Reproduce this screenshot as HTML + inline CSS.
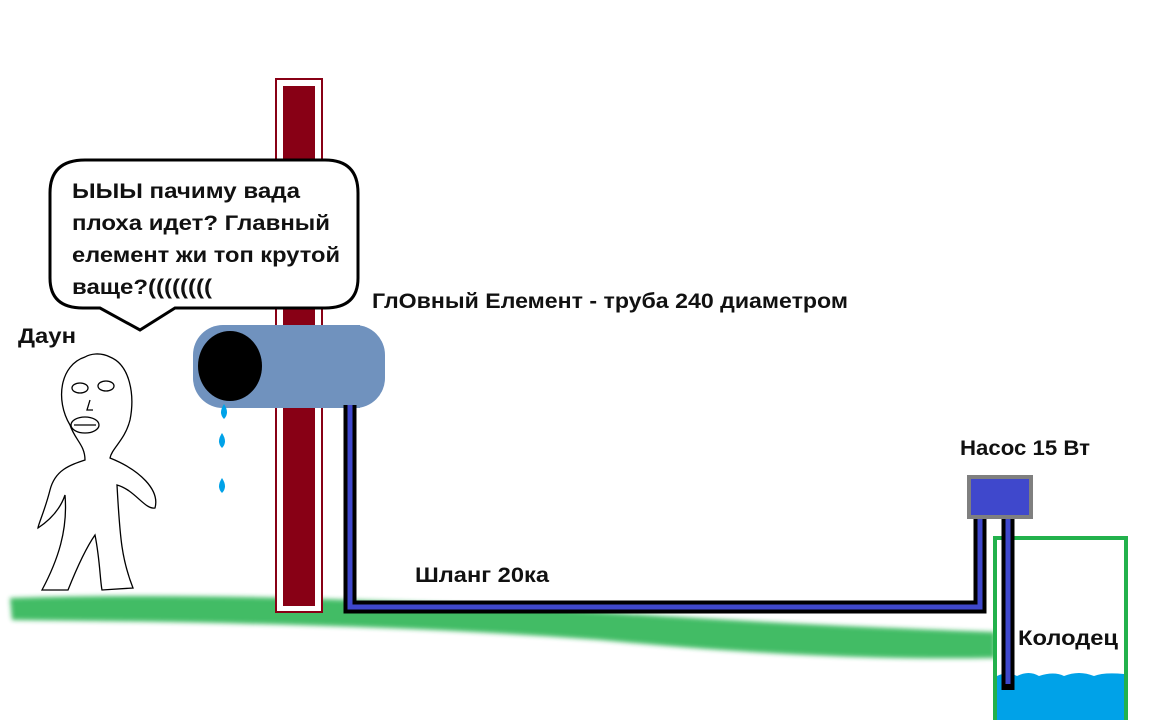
<!DOCTYPE html>
<html><head><meta charset="utf-8"><style>
html,body{margin:0;padding:0;background:#fff}
svg{display:block}
text{font-family:"Liberation Sans","DejaVu Sans",sans-serif;font-weight:bold;fill:#111}
</style></head><body>
<svg width="1152" height="720" viewBox="0 0 1152 720" xmlns="http://www.w3.org/2000/svg">
<defs><filter id="blur"><feGaussianBlur stdDeviation="2.5"/></filter></defs>
<!-- grass -->
<path d="M10,598 C200,592 400,600 600,612 C750,622 880,628 995,632 L995,658 C880,660 760,655 600,640 C400,625 200,622 12,620 Z" fill="#22b14c" opacity="0.85" filter="url(#blur)"/>
<!-- post -->
<rect x="276" y="79" width="46" height="533" fill="#fff" stroke="#880015" stroke-width="2"/>
<rect x="283" y="86" width="32" height="520" fill="#880015"/>
<!-- speech bubble -->
<path d="M85,160 L325,160 Q358,160 358,193 L358,278 Q358,308 325,308 L175,308 L140,330 L100,308 L83,308 Q50,308 50,278 L50,193 Q50,160 85,160 Z" fill="#fff" stroke="#000" stroke-width="3"/>
<g font-size="21">
<text x="72" y="198" textLength="228" lengthAdjust="spacingAndGlyphs">ЫЫЫ пачиму вада</text>
<text x="72" y="230" textLength="258" lengthAdjust="spacingAndGlyphs">плоха идет? Главный</text>
<text x="72" y="262" textLength="268" lengthAdjust="spacingAndGlyphs">елемент жи топ крутой</text>
<text x="72" y="294" textLength="140" lengthAdjust="spacingAndGlyphs">ваще?((((((((</text>
</g>
<!-- pipe -->
<rect x="193" y="325" width="192" height="83" rx="30" fill="#7092be"/>
<rect x="230" y="325" width="130" height="83" fill="#7092be"/>
<ellipse cx="230" cy="366" rx="32" ry="35" fill="#000"/>
<!-- drops -->
<g fill="#00a2e8"><path d="M224,404 q6,9 0,15 q-6,-6 0,-15z"/><path d="M222,433 q6,9 0,15 q-6,-6 0,-15z"/><path d="M222,478 q6,9 0,15 q-6,-6 0,-15z"/></g>
<!-- hose -->
<path d="M350,405 L350,607 L980,607 L980,515" fill="none" stroke="#000" stroke-width="13"/>
<path d="M350,405 L350,607 L980,607 L980,515" fill="none" stroke="#3f48cc" stroke-width="5"/>
<!-- well -->
<rect x="995" y="538" width="131" height="190" fill="#fff" stroke="#22b14c" stroke-width="4"/>
<path d="M997,676 q10,-5 20,0 q12,-6 22,0 q15,-5 25,0 q15,-6 30,0 q10,-4 30,-2 L1124,720 L997,720 Z" fill="#00a2e8"/>
<path d="M1008,515 L1008,690" fill="none" stroke="#000" stroke-width="13"/>
<path d="M1008,515 L1008,684" fill="none" stroke="#3f48cc" stroke-width="5"/>
<!-- pump -->
<rect x="969" y="477" width="62" height="40" fill="#3f48cc" stroke="#7f7f7f" stroke-width="4"/>
<!-- person -->
<g fill="none" stroke="#000" stroke-width="1.3">
<path d="M85,357 C60,365 55,400 70,425 C75,440 85,445 85,460 C70,465 55,470 50,490 C45,510 38,525 38,528 C50,520 60,510 65,495 C68,530 58,560 42,590 L68,590 C80,560 88,545 95,535 C100,560 100,580 102,590 L133,588 C122,560 120,540 117,485 C135,490 145,510 155,508 C160,490 140,470 110,458 C112,448 125,440 130,420 C135,395 130,365 110,357 C100,352 90,354 85,357 Z"/>
<ellipse cx="80" cy="388" rx="8" ry="5"/><ellipse cx="106" cy="386" rx="8" ry="5"/>
<ellipse cx="85" cy="425" rx="14" ry="8"/><path d="M74,425 L96,425"/><path d="M90,400 L87,410 L93,410"/>
</g>
<!-- labels -->
<g font-size="21">
<text x="18" y="343" textLength="58" lengthAdjust="spacingAndGlyphs">Даун</text>
<text x="372" y="308" textLength="476" lengthAdjust="spacingAndGlyphs">ГлОвный Елемент - труба 240 диаметром</text>
<text x="960" y="455" textLength="130" lengthAdjust="spacingAndGlyphs">Насос 15 Вт</text>
<text x="415" y="582" textLength="134" lengthAdjust="spacingAndGlyphs">Шланг 20ка</text>
<text x="1018" y="645" textLength="100" lengthAdjust="spacingAndGlyphs">Колодец</text>
</g>
</svg>
</body></html>
